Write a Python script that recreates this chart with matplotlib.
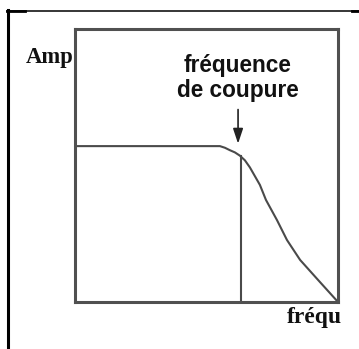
import matplotlib
matplotlib.use("Agg")
import matplotlib.pyplot as plt
from matplotlib.lines import Line2D

# Response curve (frequency vs amplitude)
freq = [0.0, 2.0, 5.51, 5.70, 5.89, 6.08, 6.27, 6.46, 6.65, 7.03, 7.26, 7.68, 8.06, 8.56, 9.24, 10.0]
amp = [5.71, 5.71, 5.71, 5.65, 5.56, 5.48, 5.36, 5.19, 4.93, 4.29, 3.74, 3.00, 2.27, 1.54, 0.81, 0.0]
cutoff_freq = 6.31
cutoff_amp = 5.34
label_lines = ["fréquence", "de coupure"]
ylabel = "Amp"
xlabel = "fréqu"

W, H = 359, 349
fig = plt.figure(figsize=(W / 100, H / 100), dpi=100)
fig.patch.set_facecolor("white")

def fx(px):
    return px / W

def fy(py):
    return 1 - py / H

ax = fig.add_axes([fx(75), fy(302), fx(338) - fx(75), fy(29) - fy(302)])
ax.set_xlim(0, 10)
ax.set_ylim(0, 10)
ax.set_xticks([])
ax.set_yticks([])
for s in ax.spines.values():
    s.set_color("#505050")
    s.set_linewidth(2.2)

curve_color = "#4a4a4a"
ax.plot(freq, amp, color=curve_color, lw=1.5, solid_capstyle="round",
        solid_joinstyle="round", clip_on=False)
ax.plot([cutoff_freq, cutoff_freq], [0, cutoff_amp], color=curve_color, lw=1.5)

# arrow
ax.annotate("", xy=(6.2, 5.80), xytext=(6.2, 7.05),
            arrowprops=dict(arrowstyle="-|>,head_length=0.9,head_width=0.3",
                            color="#222222", lw=1.2, shrinkA=0, shrinkB=0))

ax.text(6.2, 8.68, label_lines[0], ha="center", va="center",
        fontsize=16.3, fontweight="bold", family="Liberation Sans", color="#111111")
ax.text(6.2, 7.76, label_lines[1], ha="center", va="center",
        fontsize=16.3, fontweight="bold", family="Liberation Sans", color="#111111")

fig.text(fx(26), fy(63), ylabel, ha="left", va="baseline", fontsize=16.3,
         fontweight="bold", family="Liberation Serif", color="#111111")
fig.text(fx(287), fy(323), xlabel, ha="left", va="baseline", fontsize=17,
         fontweight="bold", family="Liberation Serif", color="#111111")

# outer frame
fig.add_artist(Line2D([fx(8), fx(8)], [fy(10), fy(349)], color="black", lw=2.2,
                      transform=fig.transFigure))
fig.add_artist(Line2D([fx(7), fx(359)], [fy(10.5), fy(10.5)], color="black", lw=1.1,
                      transform=fig.transFigure))
fig.add_artist(Line2D([fx(7), fx(25)], [fy(11), fy(11)], color="black", lw=2.0,
                      transform=fig.transFigure))
fig.add_artist(Line2D([fx(352), fx(359)], [fy(11), fy(11)], color="black", lw=2.0,
                      transform=fig.transFigure))

fig.savefig("out.png", dpi=100)
